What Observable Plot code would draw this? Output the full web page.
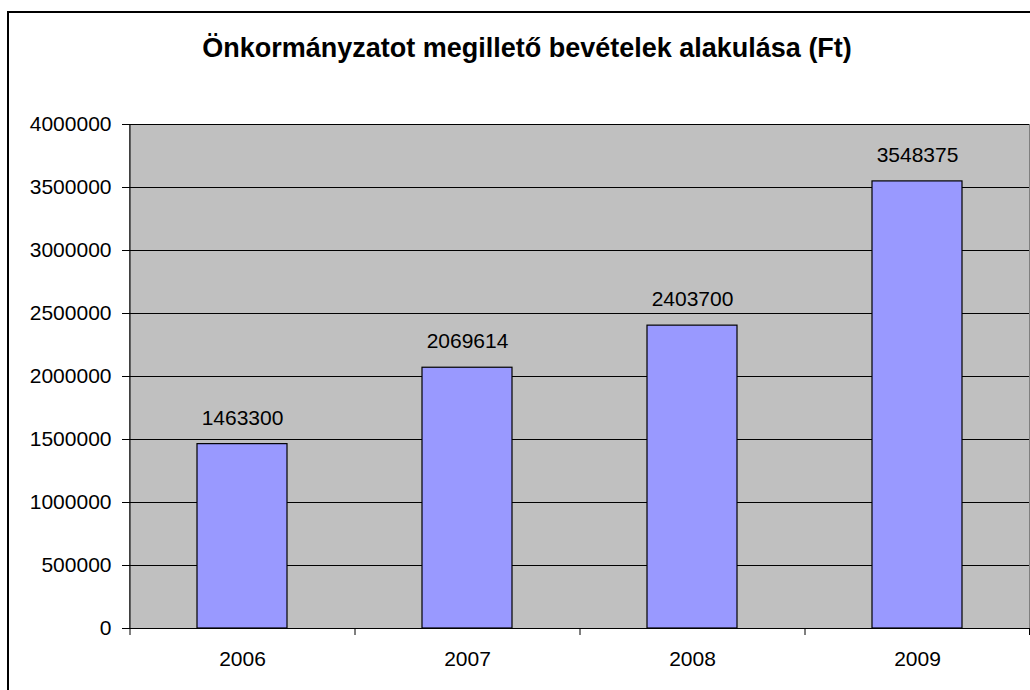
<!DOCTYPE html>
<html>
<head>
<meta charset="utf-8">
<script src="https://cdn.jsdelivr.net/npm/d3@7"></script>
<script src="https://cdn.jsdelivr.net/npm/@observablehq/plot@0.6"></script>
<style>
  html, body { margin: 0; padding: 0; background: #fff; }
  #wrap { position: relative; width: 1030px; height: 690px; overflow: hidden; font-family: "Liberation Sans", Arial, sans-serif; color: #000; }
  #border { position: absolute; left: 7px; top: 11px; width: 1200px; height: 900px; border: 2px solid #000; box-sizing: border-box; }
  #title { position: absolute; left: 527px; top: 35px; transform: translateX(-50%); white-space: nowrap; font-weight: bold; font-size: 27px; line-height: 27px; }
  #chart { position: absolute; left: 0; top: 0; }
</style>
</head>
<body>
<div id="wrap">
  <div id="border"></div>
  <div id="chart"></div>
  <div id="title">Önkormányzatot megillető bevételek alakulása (Ft)</div>
</div>
<script>
const years = ["2006", "2007", "2008", "2009"];
const values = [1463300, 2069614, 2403700, 3548375];
const yTicks = [0, 500000, 1000000, 1500000, 2000000, 2500000, 3000000, 3500000, 4000000];

const data = years.map((y, i) => ({year: y, value: values[i]}));

const chart = Plot.plot({
  width: 1030,
  height: 690,
  marginLeft: 129,
  marginRight: 1,
  marginTop: 124,
  marginBottom: 62,
  style: {fontFamily: '"Liberation Sans", Arial, sans-serif', fontSize: "21px", color: "#000", background: "transparent", overflow: "visible"},
  x: {domain: years, paddingInner: 0.6, paddingOuter: 0.3, label: null},
  y: {domain: [0, 4000000], label: null},
  marks: [
    Plot.frame({fill: "#c0c0c0", stroke: "#808080"}),
    Plot.ruleY(yTicks.slice(1), {stroke: "#000", strokeWidth: 1}),
    Plot.barY(data, {x: "year", y: "value", fill: "#9999ff", stroke: "#000", strokeWidth: 1.2}),
    Plot.text(data, {x: "year", y: "value", text: d => String(d.value), dy: -26, fontSize: 21, fill: "#000"}),
    Plot.ruleY([0], {stroke: "#000"}),
    Plot.axisY({ticks: yTicks, tickSize: 7, tickPadding: 11, tickFormat: d => String(d), fontSize: 21, label: null}),
    Plot.axisX({tickSize: 0, tickPadding: 23, fontSize: 21, label: null}),
    Plot.axisX({tickSize: 7, dx: -112.5, tickFormat: () => "", label: null}),
    Plot.axisX({ticks: ["2009"], tickSize: 7, dx: 112, tickFormat: () => "", label: null}),
    Plot.ruleX([years[0]], {dx: -112.5, stroke: "#000"})
  ]
});
document.getElementById("chart").appendChild(chart);
</script>
</body>
</html>
